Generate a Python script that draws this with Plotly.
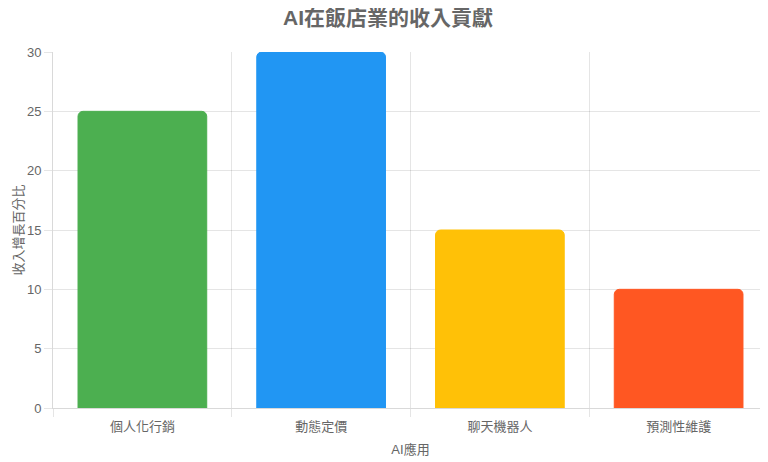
import plotly.graph_objects as go

categories = ["個人化行銷", "動態定價", "聊天機器人", "預測性維護"]
values = [25, 30, 15, 10]
colors = ["#4CAF50", "#2196F3", "#FFC107", "#FF5722"]
y_ticks = [0, 5, 10, 15, 20, 25, 30]

FONT = "Liberation Sans, Arial, Noto Sans CJK TC, sans-serif"
GRID = "rgba(0,0,0,0.1)"

fig = go.Figure(
    go.Bar(
        x=categories,
        y=values,
        marker=dict(color=colors, line=dict(color=colors, width=1)),
        width=0.72,
        hoverinfo="x+y",
    )
)

# page body has an 8px default margin, so the figure is 760x454
fig.update_layout(
    width=760,
    height=454,
    margin=dict(l=45, r=0, t=44, b=54, autoexpand=False),
    paper_bgcolor="white",
    plot_bgcolor="white",
    barcornerradius=5,
    showlegend=False,
    font=dict(family=FONT, color="#666", size=13),
    title=dict(
        text="<b>AI在飯店業的收入貢獻</b>",
        x=0.5,
        xanchor="center",
        y=0.995,
        yanchor="top",
        pad=dict(t=0, b=0),
        font=dict(family=FONT, size=21, color="#666"),
    ),
)

fig.update_xaxes(
    automargin=False,
    tickson="boundaries",
    ticks="outside",
    ticklen=8,
    tickcolor=GRID,
    ticklabelstandoff=6,
    showgrid=True,
    gridcolor=GRID,
    showline=True,
    linecolor="rgba(0,0,0,0.15)",
    mirror=False,
    title=dict(text="AI應用", font=dict(size=13, color="#666"), standoff=12),
    tickfont=dict(size=13, color="#666"),
)

fig.update_yaxes(
    automargin=False,
    range=[0, 30],
    tickvals=y_ticks,
    ticks="outside",
    ticklen=8,
    tickcolor=GRID,
    showgrid=True,
    gridcolor=GRID,
    showline=True,
    linecolor="rgba(0,0,0,0.15)",
    zeroline=False,
    title=dict(text="收入增長百分比", font=dict(size=13, color="#666"), standoff=0),
    tickfont=dict(size=13, color="#666"),
)

fig.write_html("out.html")
